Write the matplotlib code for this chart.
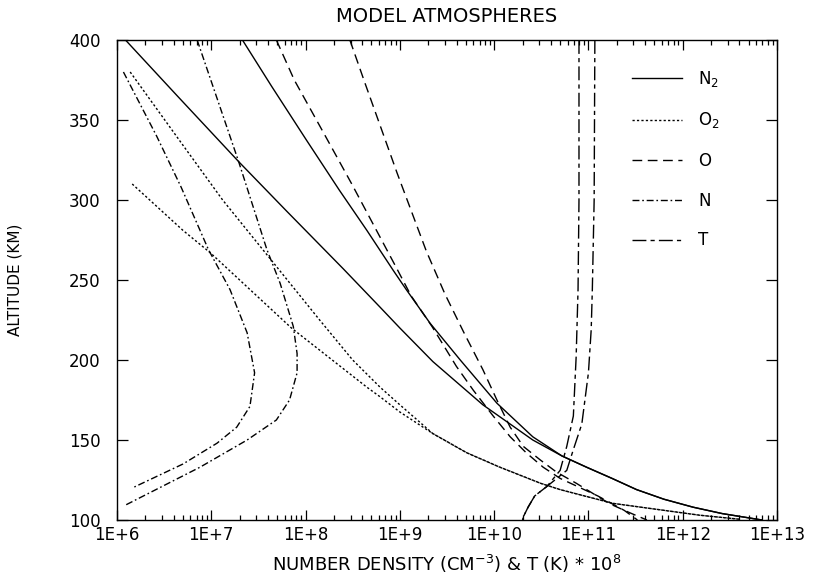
#!/usr/bin/env python3
"""
Model atmospheres: number density profiles of N2, O2, O, N and temperature
"""

import matplotlib
matplotlib.use('Agg')
import matplotlib.pyplot as plt
from matplotlib.lines import Line2D
from matplotlib.ticker import FixedLocator, LogLocator, NullFormatter

# ---- data (altitude in km, density in cm^-3) ----
# N2
alt_n2_cold = [400, 365, 324, 293, 257, 233, 220, 199, 172, 150, 140, 133, 126, 119, 113, 108, 104, 100]
n2_cold = [1.23e6, 4.37e6, 1.95e7, 6.31e7, 2.51e8, 6.17e8, 1.0e9, 2.24e9, 7.59e9,
           2.57e10, 5.25e10, 9.55e10, 1.78e11, 3.24e11, 6.31e11, 1.29e12, 2.63e12, 6.92e12]
alt_n2_hot = [400, 371, 337.5, 306, 281, 256, 244, 223, 200, 173, 152, 140, 133, 126, 119, 113, 108, 104, 100]
n2_hot = [2.14e7, 4.37e7, 1.02e8, 2.29e8, 4.47e8, 8.51e8, 1.17e9, 2.09e9, 4.37e9,
          1.07e10, 2.57e10, 5.25e10, 9.55e10, 1.78e11, 3.24e11, 6.31e11, 1.29e12, 2.63e12, 6.92e12]

# O2
alt_o2_cold = [310, 281, 267, 220, 183, 177, 167.5, 154, 142, 133, 123, 119, 110.4, 103, 100.5]
o2_cold = [1.45e6, 5.01e6, 9.77e6, 7.08e7, 4.47e8, 6.17e8, 1.0e9, 2.24e9, 5.13e9,
           1.15e10, 3.09e10, 5.01e10, 1.82e11, 1.51e12, 3.98e12]
alt_o2_hot = [380, 335, 300, 268, 225, 200, 183, 172, 154, 142, 133, 123, 119, 110.4, 103, 100.5]
o2_hot = [1.38e6, 4.90e6, 1.32e7, 3.63e7, 1.41e8, 3.16e8, 6.17e8, 1.0e9, 2.24e9, 5.13e9,
          1.15e10, 3.09e10, 5.01e10, 1.82e11, 1.51e12, 3.98e12]

# O
alt_o_cold = [400, 375, 340, 310, 258, 240, 221, 196, 181, 165, 152, 142, 133, 126, 115, 106, 100]
o_cold = [4.90e7, 7.59e7, 1.62e8, 3.09e8, 9.12e8, 1.32e9, 2.19e9, 3.98e9, 6.03e9, 9.77e9,
          1.48e10, 2.19e10, 3.31e10, 5.01e10, 1.26e11, 2.40e11, 3.31e11]
alt_o_hot = [400, 373, 317, 268, 241, 217, 194, 175, 158, 146, 137.5, 130, 123, 110, 104, 100]
o_hot = [2.95e8, 4.27e8, 9.33e8, 1.91e9, 3.02e9, 4.79e9, 7.59e9, 1.07e10, 1.48e10, 2.04e10,
         3.09e10, 4.57e10, 7.41e10, 1.70e11, 2.88e11, 4.17e11]

# N
alt_n_cold = [380, 340, 308, 269, 244, 217, 192, 171, 158, 148, 135, 120]
n_cold = [1.17e6, 2.63e6, 4.79e6, 9.33e6, 1.58e7, 2.40e7, 2.88e7, 2.57e7,
          1.86e7, 1.15e7, 5.01e6, 1.45e6]
alt_n_hot = [400, 324, 269, 248, 221, 204, 192, 175, 162.5, 150, 133, 109]
n_hot = [7.08e6, 1.95e7, 3.89e7, 5.37e7, 7.41e7, 8.13e7, 8.13e7, 6.76e7, 4.90e7,
         2.40e7, 7.59e6, 1.20e6]

# T (K) * 1e8
alt_t_cold = [400, 300, 244, 202, 165, 146, 131, 121, 115, 108, 102, 100]
t_cold = [7.94e10, 7.94e10, 7.76e10, 7.41e10, 6.92e10, 5.89e10, 5.01e10, 3.63e10,
          2.69e10, 2.29e10, 2.04e10, 2.00e10]
alt_t_hot = [400, 300, 244, 219, 192, 160, 144, 131, 121, 115, 108, 102, 100]
t_hot = [1.17e11, 1.15e11, 1.10e11, 1.07e11, 1.00e11, 8.51e10, 6.92e10, 5.89e10,
         3.63e10, 2.69e10, 2.29e10, 2.04e10, 2.00e10]

xtick_values = [1e6, 1e7, 1e8, 1e9, 1e10, 1e11, 1e12, 1e13]
xtick_labels = ['1E+6', '1E+7', '1E+8', '1E+9', '1E+10', '1E+11', '1E+12', '1E+13']
ytick_values = [100, 150, 200, 250, 300, 350, 400]

# line styles per species
styles = {
    'N2': '-',
    'O2': (0, (1.6, 1.6)),
    'O': (0, (7, 4)),
    'N': (0, (5, 2, 1.2, 2)),
    'T': (0, (10, 3, 3, 3)),
}
labels = {'N2': r'N$_\mathregular{2}$', 'O2': r'O$_\mathregular{2}$',
          'O': 'O', 'N': 'N', 'T': 'T'}

fig = plt.figure(figsize=(8.23, 5.82), dpi=100)
ax = fig.add_axes([117 / 823, 62 / 582, 660 / 823, 480 / 582])

lw = 1.0
curves = [
    ('N2', n2_cold, alt_n2_cold), ('N2', n2_hot, alt_n2_hot),
    ('O2', o2_cold, alt_o2_cold), ('O2', o2_hot, alt_o2_hot),
    ('O', o_cold, alt_o_cold), ('O', o_hot, alt_o_hot),
    ('N', n_cold, alt_n_cold), ('N', n_hot, alt_n_hot),
    ('T', t_cold, alt_t_cold), ('T', t_hot, alt_t_hot),
]
for sp, x, y in curves:
    ax.plot(x, y, color='black', linestyle=styles[sp], linewidth=lw)

ax.set_xscale('log')
ax.set_xlim(1e6, 1e13)
ax.set_ylim(100, 400)

ax.xaxis.set_major_locator(FixedLocator(xtick_values))
ax.set_xticklabels(xtick_labels)
ax.xaxis.set_minor_locator(LogLocator(base=10, subs=range(2, 10), numticks=20))
ax.xaxis.set_minor_formatter(NullFormatter())
ax.set_yticks(ytick_values)

ax.tick_params(axis='both', which='both', direction='in', top=True, right=True,
               width=0.9, colors='black')
ax.tick_params(axis='x', which='major', length=7, pad=4, labelsize=12)
ax.tick_params(axis='x', which='minor', length=3.5)
ax.tick_params(axis='y', which='major', length=8, pad=12, labelsize=12)
for s in ax.spines.values():
    s.set_linewidth(1.0)

ax.set_title('MODEL ATMOSPHERES', fontsize=14, pad=13)
ax.set_xlabel(r'NUMBER DENSITY (CM$^{\mathregular{-3}}$) & T (K) * 10$^{\mathregular{8}}$',
              fontsize=13, labelpad=7)
ax.set_ylabel('ALTITUDE (KM)', fontsize=11, labelpad=33)

handles = [Line2D([], [], color='black', linestyle=styles[k], linewidth=lw)
           for k in ['N2', 'O2', 'O', 'N', 'T']]
ax.legend(handles, [labels[k] for k in ['N2', 'O2', 'O', 'N', 'T']],
          loc='upper left', bbox_to_anchor=(0.78, 0.94), frameon=False,
          fontsize=12, handlelength=3.0, handletextpad=1.0, labelspacing=1.3,
          borderpad=0, borderaxespad=0)

fig.savefig('out.png', dpi=100)
